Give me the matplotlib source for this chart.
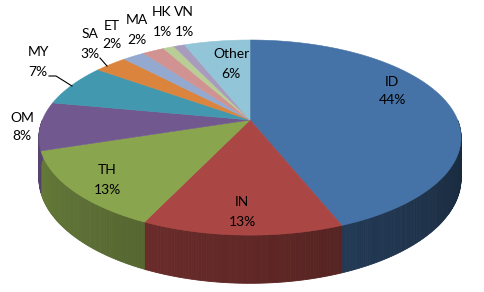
import numpy as np
import matplotlib.pyplot as plt
from matplotlib.patches import Polygon
from matplotlib.colors import to_rgb

# shares by country
labels = ["ID", "IN", "TH", "OM", "MY", "SA", "ET", "MA", "HK", "VN", "Other"]
shares = [44, 13, 13, 8, 7, 3, 2, 2, 1, 1, 6]
colors = ["#4572A7", "#AA4643", "#89A54E", "#71588F", "#4198AF", "#DB843D",
          "#93A9CF", "#D19392", "#B9CD96", "#A99BBD", "#92C5D8"]

# where the data labels sit (pixels), like the hand placed excel labels
label_xy = [(392, 91), (242, 212), (107, 180), (22, 127), (38, 62), (90, 44),
            (112, 35), (137, 30), (162, 22), (184, 22), (231, 64)]

# pie geometry: circle seen in perspective
CX, CY = 250, 120
SX, SY = 207.6, 94.4
K = 0.18
DEPTH = 39.5


def project(phi, r=1.0):
    u = r * np.sin(phi)
    v = r * np.cos(phi)
    w = 1 + K * v
    return CX + SX * u / w, CY - SY * v / w, w


fig = plt.figure(figsize=(4.84, 2.92), dpi=100)
ax = fig.add_axes([0, 0, 1, 1])
ax.set_xlim(0, 484)
ax.set_ylim(292, 0)
ax.axis("off")

fracs = np.array(shares) / sum(shares)
edges = np.concatenate([[0], np.cumsum(fracs)]) * 2 * np.pi

# 1) side walls (front half only)
for i in range(len(shares)):
    a0, a1 = max(edges[i], np.pi / 2), min(edges[i + 1], 3 * np.pi / 2)
    if a1 <= a0:
        continue
    phis = np.linspace(a0, a1, max(3, int((a1 - a0) / 0.01)))
    base = np.array(to_rgb(colors[i]))
    for p0, p1 in zip(phis[:-1], phis[1:]):
        x0, y0, w0 = project(p0)
        x1, y1, w1 = project(p1)
        pm = (p0 + p1) / 2
        f = 0.36 + 0.40 * (pm - np.radians(100)) / np.radians(160)
        f = min(max(f, 0.34), 0.8)
        c = np.clip(base * f, 0, 1)
        quad = [(x0, y0), (x1, y1), (x1, y1 + DEPTH / w1), (x0, y0 + DEPTH / w0)]
        ax.add_patch(Polygon(quad, closed=True, facecolor=c, edgecolor=c, lw=0.6))

# 2) top faces
for i in range(len(shares)):
    phis = np.linspace(edges[i], edges[i + 1], max(3, int((edges[i + 1] - edges[i]) / 0.01)))
    xs, ys, _ = project(phis)
    pts = [(CX, CY)] + list(zip(xs, ys))
    ax.add_patch(Polygon(pts, closed=True, facecolor=colors[i], edgecolor=colors[i], lw=0.4))

# 3) data labels
for i, (lab, val) in enumerate(zip(labels, shares)):
    x, y = label_xy[i]
    ax.text(x, y - 9.5, lab, ha="center", va="center", fontsize=10, family="Lato", color="black")
    ax.text(x, y + 9.5, f"{val}%", ha="center", va="center", fontsize=10, family="Lato", color="black")

# leader lines for MY and SA
ax.plot([49, 56, 72], [76, 76, 86], color="black", lw=0.8)
ax.plot([100, 107], [58, 66], color="black", lw=0.8)

fig.savefig("out.png", dpi=100)
